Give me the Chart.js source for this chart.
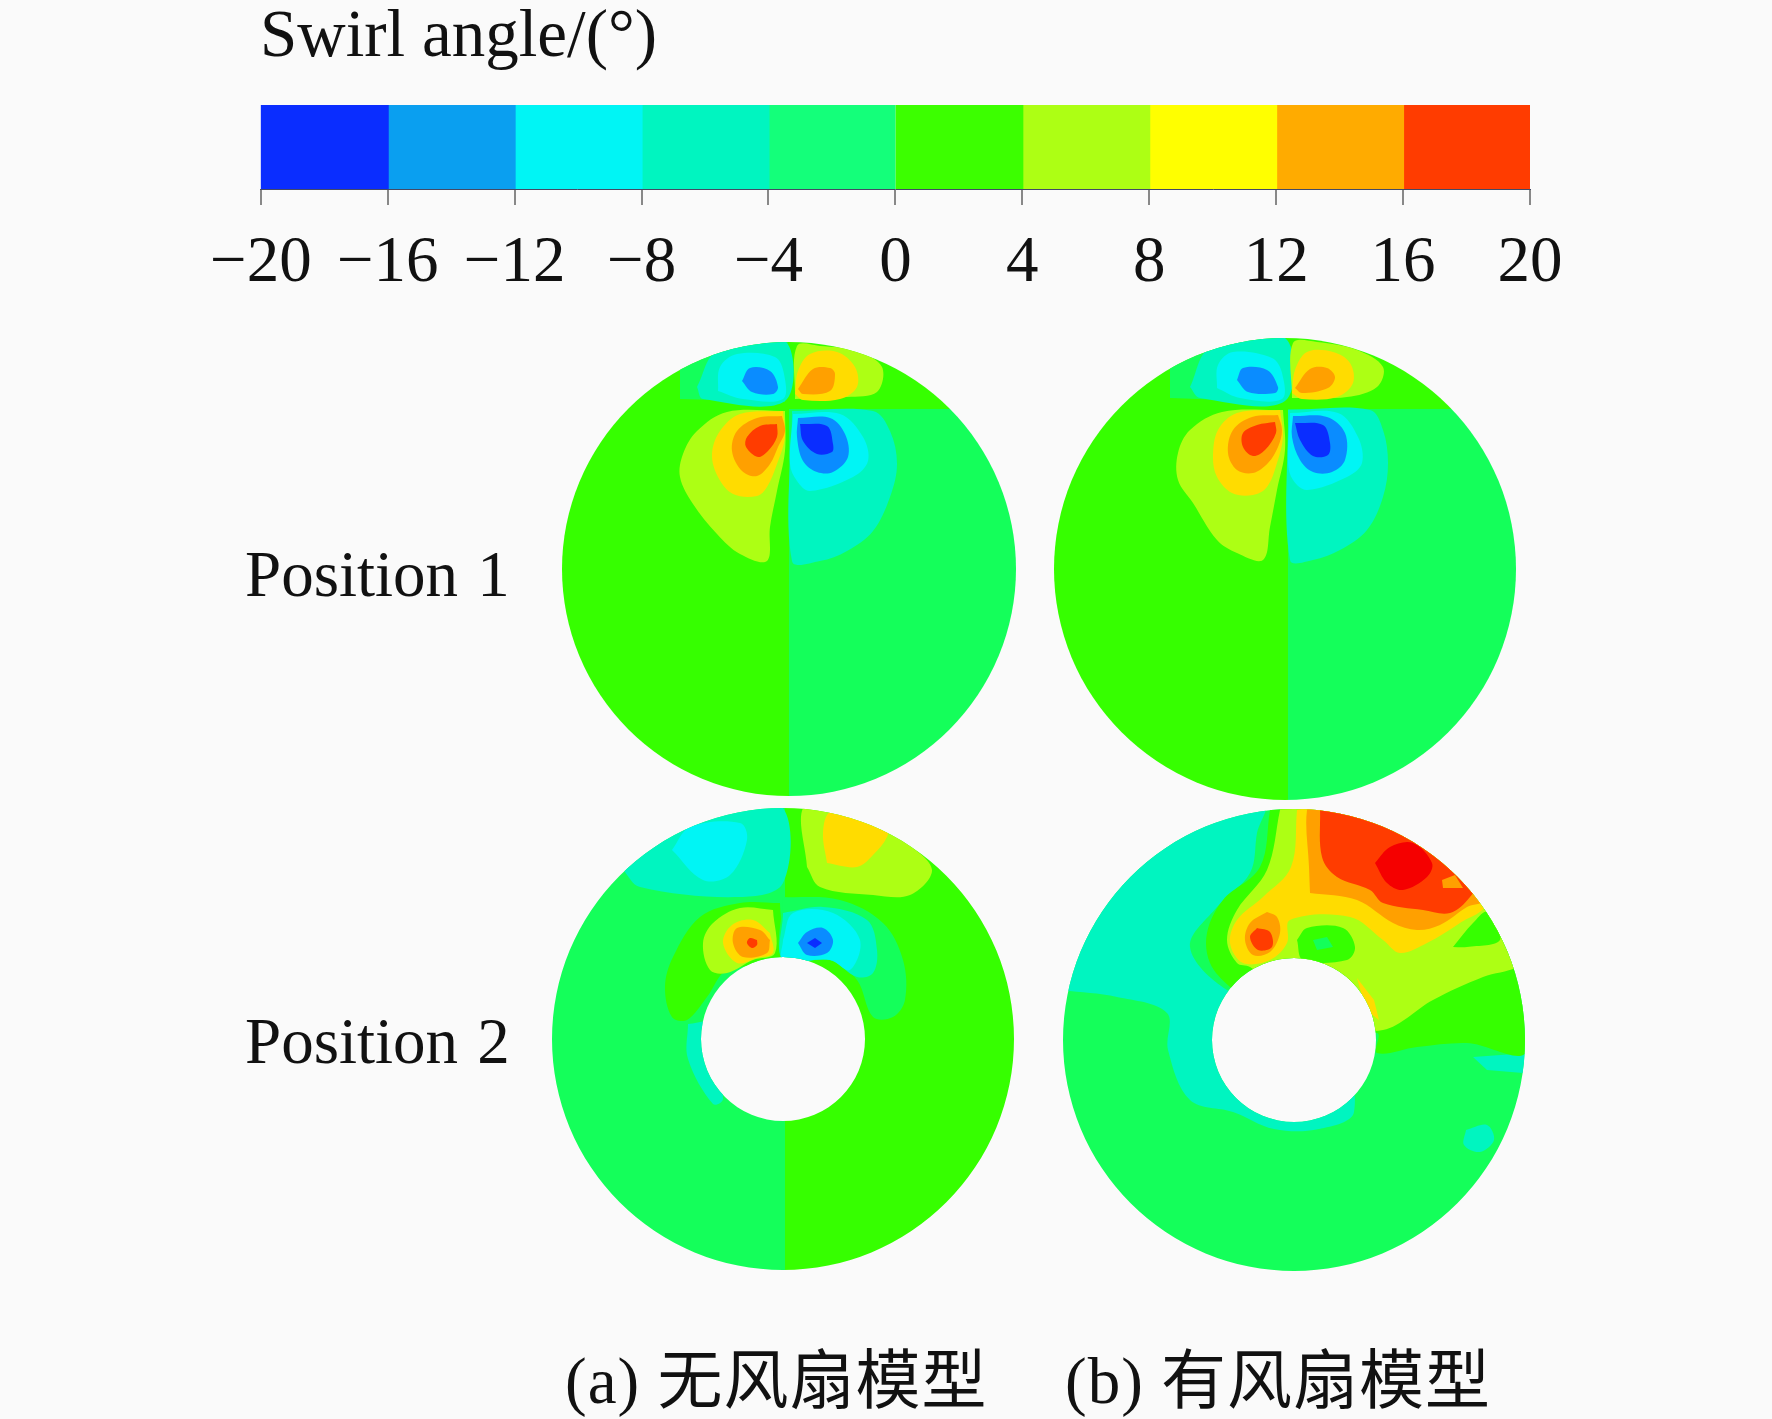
<!DOCTYPE html>
<html>
<head>
<meta charset="utf-8">
<title>Swirl angle</title>
<script src="https://cdn.jsdelivr.net/npm/chart.js@4"></script>
<style>
  html, body { margin: 0; padding: 0; background: #fafafa; }
  body { position: relative; width: 1772px; height: 1419px; overflow: hidden; }
  canvas { position: absolute; }
  .txt { position: absolute; font: 65px/1 "Liberation Serif", "Noto Sans CJK SC", serif; color: #111; white-space: nowrap; word-spacing: 3px; }
  .cap { letter-spacing: 1px; word-spacing: 0; }
</style>
</head>
<body>
<canvas id="colorbar" width="1410" height="299" style="left:190px;top:0px"></canvas>
<canvas id="discA1" width="480" height="480" style="left:549px;top:329px"></canvas>
<canvas id="discB1" width="480" height="480" style="left:1045px;top:329px"></canvas>
<canvas id="discA2" width="480" height="480" style="left:543px;top:799px"></canvas>
<canvas id="discB2" width="480" height="480" style="left:1054px;top:800px"></canvas>
<div class="txt" style="left:245px;top:542px">Position 1</div>
<div class="txt" style="left:245px;top:1009px">Position 2</div>
<div class="txt cap" style="left:565px;top:1349px">(a) 无风扇模型</div>
<div class="txt cap" style="left:1065px;top:1349px">(b) 有风扇模型</div>
<script>
const barTitle = "Swirl angle/(°)";
const barRanges = [[-20, -16], [-16, -12], [-12, -8], [-8, -4], [-4, 0], [0, 4], [4, 8], [8, 12], [12, 16], [16, 20]];
const barColors = ["#0a2dff", "#0a9ff0", "#00f5f5", "#00f5c0", "#14ff7a", "#3cff00", "#adff14", "#ffff00", "#ffab00", "#ff3c00"];
// last colour is the saturated core in (b) position 2, above the bar's range
const bandColors = ["#0a2dff", "#0a8cff", "#00f5f5", "#00f5c0", "#14ff5a", "#36ff00", "#adff14", "#ffdc00", "#ffa000", "#ff3c00", "#f50000"];

// each shape is a contour band outline, drawn in order, disc centre = 0,0
const a1Bands = [5, 4, 5, 4, 3, 2, 1, 6, 7, 8, 6, 7, 8, 9, 3, 2, 1, 0];
const a1Shapes = [
  [[-240, -240], [0, -240], [0, 240], [-240, 240]],
  [[0, -240], [240, -240], [240, 160], [0, 160]],
  [[0, 160], [240, 160], [240, 240], [0, 240]],
  [[-109, 170], [-4, 167], [-1, 235], [-109, 235]],
  [[-92, 182], [-86, 170], [-4, 168], [-4, 228], [-72, 218]],
  [[-71, 178], [-46, 170], [-6, 170], [-5, 195], [-14, 212], [-52, 215], [-69, 202]],
  [[-47, 188], [-37, 177], [-16, 175], [-11, 182], [-19, 198], [-39, 201]],
  [[6, 170], [58, 172], [88, 177], [93, 202], [68, 218], [31, 223], [8, 223]],
  [[6, 175], [14, 169], [51, 170], [68, 182], [66, 202], [48, 217], [21, 215], [9, 198]],
  [[9, 180], [14, 175], [41, 178], [46, 195], [41, 201], [24, 200]],
  [[-4, 158], [-62, 157], [-92, 138], [-106, 115], [-109, 92], [-96, 65], [-72, 35], [-49, 15], [-22, 8], [-19, 42], [-12, 78], [-4, 118]],
  [[-6, 158], [-49, 155], [-69, 138], [-77, 115], [-71, 92], [-56, 75], [-32, 73], [-22, 82], [-12, 105], [-4, 132]],
  [[-7, 153], [-32, 151], [-52, 138], [-57, 118], [-47, 98], [-32, 93], [-19, 105], [-11, 122], [-4, 138]],
  [[-12, 145], [-29, 143], [-42, 132], [-43, 122], [-31, 112], [-21, 118], [-12, 132]],
  [[3, 158], [84, 158], [101, 138], [108, 105], [101, 72], [84, 38], [58, 18], [31, 8], [3, 8]],
  [[4, 155], [51, 155], [74, 132], [79, 108], [64, 92], [21, 78], [8, 88], [1, 105]],
  [[9, 151], [41, 151], [56, 135], [59, 112], [44, 97], [28, 97], [14, 108], [8, 132]],
  [[11, 145], [38, 143], [44, 125], [43, 117], [28, 115], [14, 128]]
];

const b1Bands = [5, 4, 5, 4, 3, 2, 1, 6, 7, 8, 6, 7, 8, 9, 3, 2, 1, 0];
const b1Shapes = [
  [[-240, -240], [3, -240], [3, 240], [-240, 240]],
  [[3, -240], [240, -240], [240, 160], [3, 160]],
  [[3, 160], [240, 160], [240, 240], [3, 240]],
  [[-115, 171], [-2, 167], [-2, 236], [-115, 236]],
  [[-95, 182], [-85, 171], [0, 168], [0, 231], [-75, 221]],
  [[-68, 181], [-45, 171], [-3, 170], [-3, 196], [-13, 211], [-52, 217], [-67, 204]],
  [[-48, 189], [-37, 177], [-10, 176], [-7, 182], [-18, 199], [-42, 201]],
  [[7, 171], [62, 172], [92, 182], [98, 202], [72, 219], [32, 227], [8, 226]],
  [[7, 176], [17, 170], [52, 172], [68, 186], [65, 206], [48, 217], [22, 217], [10, 199]],
  [[10, 181], [17, 176], [43, 181], [50, 192], [42, 201], [25, 200]],
  [[-2, 159], [-63, 157], [-95, 139], [-107, 116], [-107, 89], [-92, 66], [-68, 29], [-48, 16], [-22, 9], [-15, 42], [-8, 79], [0, 119]],
  [[-5, 159], [-48, 156], [-67, 139], [-72, 112], [-68, 92], [-53, 76], [-32, 74], [-18, 82], [-8, 106], [-2, 132]],
  [[-7, 154], [-33, 152], [-52, 139], [-57, 116], [-48, 99], [-32, 96], [-17, 106], [-7, 122], [-3, 139]],
  [[-10, 147], [-28, 144], [-42, 136], [-42, 122], [-32, 113], [-20, 119], [-9, 136]],
  [[3, 159], [85, 159], [98, 139], [103, 106], [98, 72], [82, 39], [55, 19], [28, 9], [5, 9]],
  [[5, 156], [53, 156], [73, 132], [77, 106], [62, 92], [22, 79], [8, 89], [3, 106]],
  [[8, 153], [42, 152], [60, 136], [60, 109], [47, 97], [28, 97], [15, 109], [7, 132]],
  [[10, 146], [38, 144], [45, 126], [43, 114], [28, 113], [15, 129]]
];

const a2Bands = [4, 5, 3, 3, 2, 6, 7, 5, 6, 7, 8, 9, 4, 3, 2, 1, 0];
const a2Shapes = [
  [[-240, -240], [2, -240], [2, 240], [-240, 240]],
  [[2, -240], [240, -240], [240, 240], [2, 240]],
  [[-95, 15], [-70, 15], [-60, -60], [-70, -65], [-95, -20]],
  [[-160, 169], [-143, 152], [-43, 142], [0, 156], [0, 231], [-56, 232], [-110, 216]],
  [[-111, 189], [-80, 159], [-53, 164], [-36, 199], [-43, 216], [-93, 212]],
  [[24, 172], [37, 152], [90, 144], [127, 144], [149, 169], [124, 196], [90, 219], [50, 229], [20, 231]],
  [[44, 176], [74, 172], [90, 184], [104, 202], [104, 214], [74, 224], [47, 227], [40, 206]],
  [[-3, 136], [-43, 136], [-83, 122], [-110, 82], [-118, 52], [-111, 22], [-96, 19], [-76, 42], [-56, 69], [-3, 79]],
  [[-10, 129], [-43, 131], [-70, 116], [-80, 96], [-73, 69], [-56, 66], [-30, 79], [-8, 86]],
  [[-13, 106], [-30, 119], [-51, 114], [-60, 96], [-46, 76], [-26, 81], [-10, 86]],
  [[-13, 99], [-23, 109], [-46, 111], [-50, 96], [-40, 82], [-16, 86]],
  [[-26, 99], [-33, 101], [-36, 96], [-31, 91], [-26, 94]],
  [[0, 142], [57, 139], [100, 116], [120, 79], [122, 39], [110, 22], [90, 22], [74, 59], [47, 79], [0, 79]],
  [[0, 126], [40, 132], [84, 119], [94, 89], [90, 66], [74, 62], [47, 79], [0, 79]],
  [[0, 99], [10, 126], [50, 126], [77, 99], [67, 69], [47, 79], [0, 79]],
  [[15, 96], [24, 107], [40, 111], [50, 99], [44, 86], [24, 84]],
  [[24, 96], [32, 101], [39, 96], [32, 91]]
];

const b2Bands = [4, 3, 3, 3, 5, 6, 5, 4, 5, 7, 7, 8, 8, 9, 8, 9, 10];
const b2Shapes = [
  [[-240, -240], [240, -240], [240, 240], [-240, 240]],
  [[-234, 50], [-177, 43], [-127, 27], [-126, -10], [-104, -60], [-61, -72], [-20, -89], [25, -89], [60, -72], [40, 0], [-67, 50], [-104, 93], [-77, 133], [-44, 167], [-37, 207], [-30, 240], [-240, 240], [-240, 50]],
  [[179, -17], [233, -13], [229, -33], [193, -30]],
  [[172, -90], [193, -85], [200, -100], [186, -112], [170, -105]],
  [[-24, 230], [-34, 173], [-71, 140], [-87, 107], [-84, 77], [-64, 53], [0, 0], [83, 7], [83, -13], [123, -7], [173, -3], [233, -10], [240, 240], [-24, 240]],
  [[-14, 230], [-27, 170], [-57, 130], [-67, 100], [-57, 77], [-44, 73], [40, 20], [89, 10], [139, 40], [189, 63], [223, 73], [239, 90], [240, 240], [-14, 240]],
  [[3, 100], [13, 112], [49, 112], [61, 93], [53, 80], [9, 80]],
  [[19, 100], [33, 103], [39, 93], [23, 90]],
  [[159, 93], [179, 117], [193, 128], [206, 100], [173, 93]],
  [[3, 230], [-3, 173], [-31, 143], [-57, 120], [-64, 97], [-51, 77], [-24, 80], [-7, 97], [-4, 120], [56, 123], [89, 100], [106, 87], [133, 97], [166, 117], [193, 137], [189, 207], [23, 233]],
  [[63, 62], [80, 40], [85, 20], [72, 30]],
  [[16, 147], [63, 140], [99, 117], [123, 110], [146, 115], [173, 133], [189, 140], [186, 207], [23, 233], [13, 230], [15, 173]],
  [[-27, 128], [-44, 117], [-49, 100], [-41, 85], [-24, 88], [-14, 107], [-17, 123]],
  [[26, 230], [28, 183], [43, 163], [76, 150], [89, 137], [129, 130], [156, 127], [176, 143], [190, 170], [156, 207], [60, 245]],
  [[148, 160], [161, 165], [169, 152], [149, 152]],
  [[-37, 112], [-44, 103], [-36, 90], [-22, 93], [-24, 108]],
  [[81, 177], [93, 157], [109, 150], [133, 163], [138, 177], [119, 197], [96, 193]]
];

// clips everything the chart draws to the ring, through the chart's own scales
const ringClip = {
  id: "ringClip",
  beforeDatasetsDraw(chart, args, opts) {
    const ctx = chart.ctx;
    const cx = chart.scales.x.getPixelForValue(0);
    const cy = chart.scales.y.getPixelForValue(0);
    ctx.save();
    ctx.beginPath();
    ctx.arc(cx, cy, opts.outer, 0, Math.PI * 2);
    if (opts.inner > 0) {
      ctx.moveTo(cx + opts.inner, cy);
      ctx.arc(cx, cy, opts.inner, 0, Math.PI * 2);
    }
    ctx.clip("evenodd");
  },
  afterDatasetsDraw(chart) {
    chart.ctx.restore();
  }
};

function drawColorbar() {
  new Chart(document.getElementById("colorbar"), {
    type: "bar",
    data: {
      labels: [""],
      datasets: barRanges.map((range, i) => ({
        data: [range],
        backgroundColor: barColors[i],
        borderWidth: 0,
        inflateAmount: 1,
        grouped: false,
        barPercentage: 1,
        categoryPercentage: 1
      }))
    },
    options: {
      indexAxis: "y",
      responsive: false,
      animation: false,
      devicePixelRatio: 1,
      layout: { padding: { left: 70, right: 70, top: 0, bottom: 0 } },
      plugins: {
        legend: { display: false },
        tooltip: { enabled: false },
        title: {
          display: true,
          text: barTitle,
          align: "start",
          color: "#111",
          font: { family: "Liberation Serif", size: 67, weight: "normal", lineHeight: 1 },
          padding: { top: 5, bottom: 33 }
        }
      },
      scales: {
        x: {
          type: "linear",
          min: -20,
          max: 20,
          afterFit: (scale) => { scale.height = 110; },
          border: { display: true, color: "#444a66", width: 1 },
          grid: { drawOnChartArea: false, drawTicks: true, tickLength: 16, color: "#888", lineWidth: 2 },
          ticks: {
            stepSize: 4,
            autoSkip: false,
            maxRotation: 0,
            padding: 20,
            color: "#111",
            font: { family: "Liberation Serif", size: 65 },
            callback: (value) => String(value).replace("-", "\u2212")
          }
        },
        y: { display: false }
      }
    }
  });
}

function drawDisc(id, bands, shapes, outer, inner) {
  const datasets = shapes.map((shape, i) => ({
    data: shape.concat([shape[0]]),
    showLine: true,
    fill: "shape",
    backgroundColor: bandColors[bands[i]],
    borderWidth: 0,
    pointRadius: 0,
    tension: shape.length > 4 ? 0.35 : 0
  }));
  // Chart.js paints the first dataset last, shapes are listed bottom to top
  datasets.reverse();
  new Chart(document.getElementById(id), {
    type: "scatter",
    data: { datasets: datasets },
    plugins: [ringClip],
    options: {
      responsive: false,
      animation: false,
      devicePixelRatio: 1,
      plugins: {
        legend: { display: false },
        tooltip: { enabled: false },
        ringClip: { outer: outer, inner: inner }
      },
      scales: {
        x: { type: "linear", min: -240, max: 240, display: false },
        y: { type: "linear", min: -240, max: 240, display: false }
      }
    }
  });
}

drawColorbar();
drawDisc("discA1", a1Bands, a1Shapes, 227, 0);
drawDisc("discB1", b1Bands, b1Shapes, 231, 0);
drawDisc("discA2", a2Bands, a2Shapes, 231, 82);
drawDisc("discB2", b2Bands, b2Shapes, 231, 82);
</script>
</body>
</html>
